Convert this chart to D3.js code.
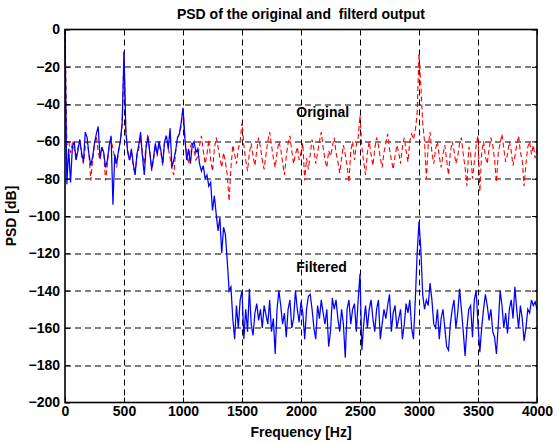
<!DOCTYPE html>
<html>
<head>
<meta charset="utf-8">
<script src="https://cdn.jsdelivr.net/npm/d3@7"></script>
<style>
  html, body { margin: 0; padding: 0; background: #fff; }
  svg { display: block; }
  text { font-family: "Liberation Sans", Arial, Helvetica, sans-serif; font-weight: bold; fill: #000; white-space: pre; }
</style>
</head>
<body>
<svg id="chart" width="557" height="443"></svg>
<script>
// ---------- data ----------
const title = "PSD of the original and  filterd output";
const xLabel = "Frequency [Hz]";
const yLabel = "PSD [dB]";
const xTicks = [0, 500, 1000, 1500, 2000, 2500, 3000, 3500, 4000];
const yTicks = [0, -20, -40, -60, -80, -100, -120, -140, -160, -180, -200];
const freqMax = 4000;

// Original signal PSD (dB), 257 bins from 0 to 4000 Hz
const original = [
  0,-62,-60,-66,-61,-64,-70,-63,-59,-68,-72,-63,-60,-67,-81,-70,
  -62,-57,-66,-70,-64,-66,-81,-72,-62,-59,-64,-69,-74,-66,-60,-52,
  -12,-54,-64,-70,-66,-73,-78,-68,-64,-58,-67,-72,-62,-56,-65,-76,
  -70,-62,-68,-61,-66,-73,-60,-57,-64,-69,-75,-78,-66,-58,-56,-52,
  -42,
  -58,-67,-72,-63,-60,-65,-70,-68,-62,-57,-65,-72,-67,-59,-70,-76,
  -64,-58,-63,-69,-74,-66,-71,-78,-92,-74,-62,-67,-72,-64,-60,-50,
  -62,-70,-76,-66,-61,-68,-73,-65,-58,-63,-70,-75,-67,-60,-55,-62,
  -69,-74,-66,-60,-64,-71,-78,-68,-61,-57,-65,-72,-67,-63,-70,-66,
  -61,-81,-69,-75,-67,-59,-64,-72,-66,-60,-55,-63,-70,-74,-65,-68,
  -63,-58,-66,-71,-77,-69,-62,-67,-73,-82,-65,-60,-70,-62,-58,-46,
  -63,-71,-78,-66,-60,-67,-73,-64,-58,-62,-69,-74,-66,-61,-56,-64,
  -70,-75,-68,-62,-66,-72,-63,-58,-65,-71,-60,-56,-59,-54,-45,-13,
  -30,-50,-60,-80,-62,-55,-66,-72,-64,-60,-68,-74,-67,-62,-70,-78,
  -66,-60,-65,-72,-68,-61,-58,-67,-74,-84,-63,-66,-80,-71,-62,-57,
  -87,-66,-60,-68,-72,-64,-58,-62,-70,-82,-66,-61,-56,-64,-71,-67,
  -60,-65,-73,-68,-62,-57,-66,-70,-84,-72,-63,-60,-67,-62,-69,-64
];

// Filtered output PSD (dB), same bins
const filtered = [
  0,-83,-64,-82,-63,-60,-70,-65,-59,-66,-71,-55,-58,-67,-73,-68,
  -61,-56,-52,-69,-63,-66,-74,-70,-62,-57,-94,-67,-72,-65,-60,-50,
  -12,-55,-66,-70,-64,-72,-78,-67,-62,-55,-68,-78,-63,-58,-66,-75,
  -69,-61,-67,-60,-65,-72,-60,-57,-64,-53,-74,-70,-65,-58,-56,-50,
  -42,
  -58,-70,-64,-72,-62,-60,-66,-64,-72,-76,-73,-80,-78,-84,-82,-97,
  -89,-99,-108,-101,-120,-106,-110,-124,-140,-138,-155,-166,-148,-160,-145,-140,
  -166,-150,-162,-139,-158,-164,-152,-147,-156,-150,-160,-148,-153,-158,-145,-162,
  -155,-174,-150,-140,-148,-158,-152,-165,-150,-145,-160,-155,-140,-150,-157,-146,
  -152,-166,-150,-143,-142,-150,-160,-166,-148,-155,-145,-152,-158,-150,-170,-162,
  -144,-150,-145,-155,-162,-150,-158,-176,-150,-145,-158,-150,-147,-162,-145,-131,
  -172,-158,-148,-160,-150,-145,-155,-162,-150,-145,-166,-158,-150,-155,-148,-142,
  -162,-152,-148,-160,-155,-150,-166,-158,-147,-152,-145,-160,-166,-145,-120,-103,
  -118,-142,-150,-145,-148,-136,-145,-158,-160,-150,-166,-155,-150,-160,-170,-172,
  -158,-150,-145,-160,-152,-139,-150,-162,-175,-160,-150,-148,-165,-145,-140,-158,
  -173,-160,-150,-142,-148,-156,-150,-162,-165,-174,-158,-140,-148,-160,-152,-163,
  -150,-145,-155,-138,-150,-160,-148,-155,-167,-160,-150,-152,-145,-148,-146,-150
];

const annotations = [
  { text: "Original", f: 1960, db: -45 },
  { text: "Filtered", f: 1960, db: -128 }
];

// ---------- layout ----------
const W = 557, H = 443;
const margin = { left: 65, right: 20, top: 29.5, bottom: 40.5 };
const iw = W - margin.left - margin.right;
const ih = H - margin.top - margin.bottom;
const FS = "14px";

const svg = d3.select("#chart");
const g = svg.append("g").attr("transform", `translate(${margin.left},${margin.top})`);

const x = d3.scaleLinear().domain([0, freqMax]).range([0, iw]);
const y = d3.scaleLinear().domain([-200, 0]).range([ih, 0]);

// grid
const grid = g.append("g").attr("stroke", "#000").attr("stroke-width", 1).attr("stroke-dasharray", "6,4");
grid.selectAll("line.vx").data(xTicks.slice(1, -1)).enter().append("line")
  .attr("x1", d => Math.round(x(d)) + 0.5).attr("x2", d => Math.round(x(d)) + 0.5)
  .attr("y1", 0).attr("y2", ih);
grid.selectAll("line.hy").data(yTicks.slice(1, -1)).enter().append("line")
  .attr("y1", d => Math.round(y(d)) + 0.5).attr("y2", d => Math.round(y(d)) + 0.5)
  .attr("x1", 0).attr("x2", iw);

// data lines
const freqs = original.map((_, i) => i * freqMax / (original.length - 1));
const lineGen = d3.line().x((d, i) => x(freqs[i])).y(d => y(d));

g.append("path").datum(original)
  .attr("fill", "none").attr("stroke", "#ff0000").attr("stroke-width", 1.1)
  .attr("stroke-dasharray", "5,3").attr("d", lineGen);

g.append("path").datum(filtered)
  .attr("fill", "none").attr("stroke", "#0000ff").attr("stroke-width", 1.25)
  .attr("d", lineGen);

// axes (box with inward ticks)
const fmt = d3.format("d");
const axB = g.append("g").attr("transform", `translate(0,${ih})`)
  .call(d3.axisBottom(x).tickValues(xTicks).tickFormat(fmt).tickSizeInner(-5).tickSizeOuter(0).tickPadding(4));
const axL = g.append("g")
  .call(d3.axisLeft(y).tickValues(yTicks).tickFormat(fmt).tickSizeInner(-5).tickSizeOuter(0).tickPadding(5));
const axT = g.append("g")
  .call(d3.axisTop(x).tickValues(xTicks).tickSizeInner(-5).tickSizeOuter(0).tickFormat(""));
const axR = g.append("g").attr("transform", `translate(${iw},0)`)
  .call(d3.axisRight(y).tickValues(yTicks).tickSizeInner(-5).tickSizeOuter(0).tickFormat(""));

[axB, axL, axT, axR].forEach(a => {
  a.select(".domain").remove();
  a.selectAll("line").attr("stroke", "#000").attr("stroke-width", 1);
  a.selectAll("text").style("font-size", FS).style("font-weight", "bold")
    .style("font-family", "'Liberation Sans', Arial, sans-serif").attr("fill", "#000");
});

g.append("rect").attr("x", 0).attr("y", 0).attr("width", iw).attr("height", ih)
  .attr("fill", "none").attr("stroke", "#000").attr("stroke-width", 1.6);

// annotations
g.selectAll("text.ann").data(annotations).enter().append("text")
  .attr("class", "ann")
  .attr("x", d => x(d.f)).attr("y", d => y(d.db))
  .attr("dominant-baseline", "middle")
  .style("font-size", FS)
  .text(d => d.text);

// title & labels
svg.append("text").attr("x", margin.left + iw / 2).attr("y", 19)
  .attr("text-anchor", "middle").style("font-size", FS).text(title);
svg.append("text").attr("x", margin.left + iw / 2).attr("y", 437)
  .attr("text-anchor", "middle").style("font-size", FS).text(xLabel);
svg.append("text").attr("transform", `translate(16,${margin.top + ih / 2}) rotate(-90)`)
  .attr("text-anchor", "middle").style("font-size", FS).text(yLabel);
</script>
</body>
</html>
